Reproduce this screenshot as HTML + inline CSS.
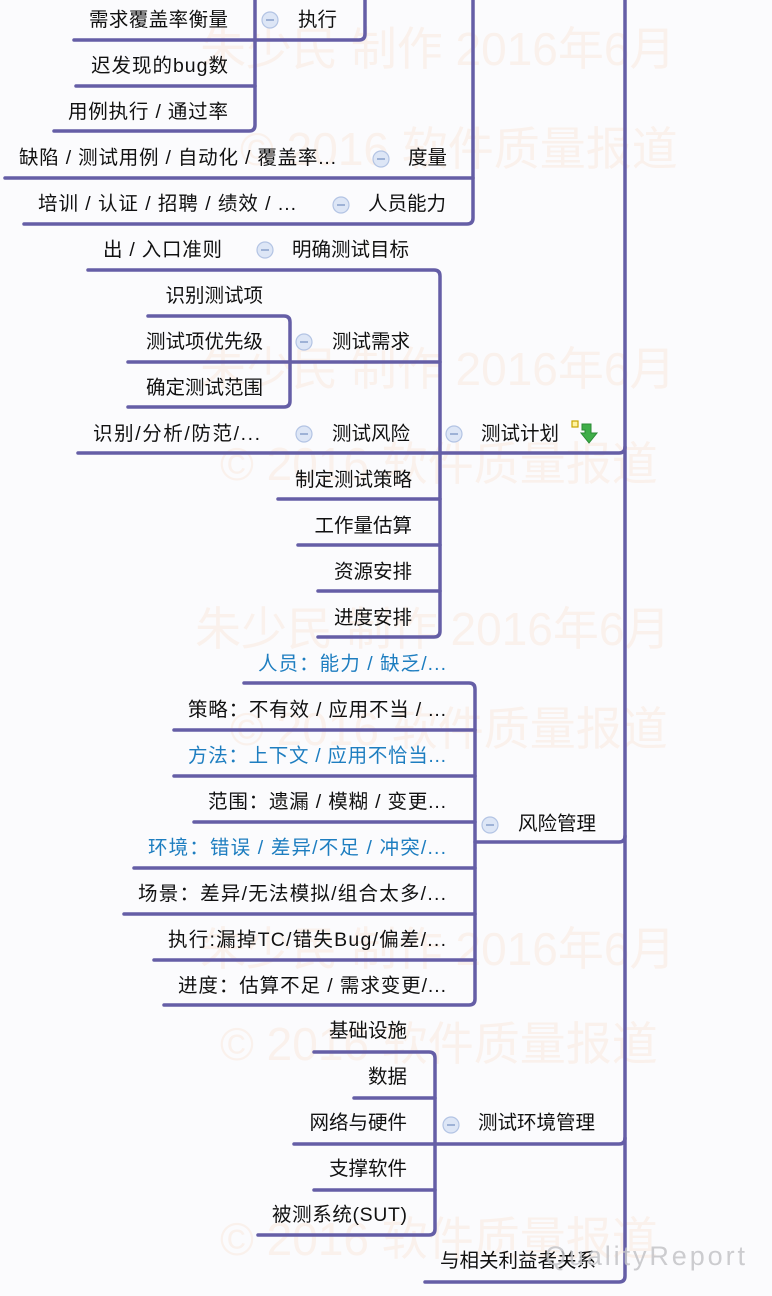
<!DOCTYPE html>
<html><head><meta charset="utf-8"><style>
html,body{margin:0;padding:0;background:#fbfbfd;}
svg{display:block;}
text{font-family:"Liberation Sans","Noto Sans CJK SC",sans-serif;font-size:19.5px;fill:#111;}
.wm{fill:#faf1ec;font-size:46px;}
.b{fill:#1e7ec0;}
</style></head><body>
<svg width="772" height="1296" viewBox="0 0 772 1296" xmlns="http://www.w3.org/2000/svg">
<g class="wmg">
<text class="wm" x="200" y="65">朱少民  制作 2016年6月</text>
<text class="wm" x="240" y="165">© 2016 软件质量报道</text>
<text class="wm" x="200" y="385">朱少民  制作 2016年6月</text>
<text class="wm" x="220" y="480">© 2016 软件质量报道</text>
<text class="wm" x="195" y="645">朱少民  制作 2016年6月</text>
<text class="wm" x="230" y="745">© 2016 软件质量报道</text>
<text class="wm" x="200" y="965">朱少民  制作 2016年6月</text>
<text class="wm" x="220" y="1060">© 2016 软件质量报道</text>
<text class="wm" x="220" y="1255">© 2016 软件质量报道</text>
</g>
<g fill="none" stroke="#655ea6" stroke-width="3.5" stroke-linecap="round">
<path d="M625 -5 V1276 q0 6 -6 6 H425"/>
<path d="M365 -5 V34 q0 6 -6 6 H255"/>
<path d="M255 -5 V125 q0 6 -6 6 H54"/>
<path d="M74 40 H255"/>
<path d="M76 86 H255"/>
<path d="M473 -5 V218 q0 6 -6 6 H24"/>
<path d="M5 178 H473"/>
<path d="M88 270 H434 q6 0 6 6 V631 q0 6 -6 6 H318"/>
<path d="M440 453 H619 q6 0 6 -6"/>
<path d="M291 362 H440"/>
<path d="M148 316 H284 q6 0 6 6 V401 q0 6 -6 6 H128"/>
<path d="M128 362 H290"/>
<path d="M78 453 H440"/>
<path d="M278 499 H440"/>
<path d="M298 545 H440"/>
<path d="M318 591 H440"/>
<path d="M244 683 H469 q6 0 6 6 V999 q0 6 -6 6 H164"/>
<path d="M475 842 H619 q6 0 6 -6"/>
<path d="M174 730 H475"/>
<path d="M174 776 H475"/>
<path d="M194 822 H475"/>
<path d="M134 868 H475"/>
<path d="M124 914 H475"/>
<path d="M154 960 H475"/>
<path d="M314 1052 H429 q6 0 6 6 V1229 q0 6 -6 6 H258"/>
<path d="M435 1144 H619 q6 0 6 -6"/>
<path d="M294 1144 H435"/>
<path d="M354 1098 H435"/>
<path d="M314 1190 H435"/>
</g>
<g fill="#dde6f6" stroke="#b3c4e4" stroke-width="1.2">
<circle cx="270" cy="20" r="8"/><circle cx="381" cy="159" r="8"/><circle cx="341" cy="205" r="8"/>
<circle cx="265" cy="250" r="8"/><circle cx="304" cy="342" r="8"/><circle cx="304" cy="434" r="8"/>
<circle cx="454" cy="434" r="8"/><circle cx="490" cy="825" r="8"/><circle cx="451" cy="1125" r="8"/>
</g>
<g stroke="#8aa0cc" stroke-width="1.5">
<path d="M266 20h8M377 159h8M337 205h8M261 250h8M300 342h8M300 434h8M450 434h8M486 825h8M447 1125h8"/>
</g>
<rect x="572" y="421" width="6" height="6" fill="#fff3a0" stroke="#c9a500" stroke-width="1.2"/>
<path d="M582 424 h9 v9 h6 l-8 10 l-8 -10 h4 v-3 h-3 z" fill="#3fae49" stroke="#2a8a34" stroke-width="1"/>

<g text-anchor="end">
<text x="228" y="26" textLength="139">需求覆盖率衡量</text>
<text x="228" y="72" textLength="137">迟发现的bug数</text>
<text x="228" y="118" textLength="160">用例执行 / 通过率</text>
<text x="336" y="164" textLength="317">缺陷 / 测试用例 / 自动化 / 覆盖率...</text>
<text x="296" y="210" textLength="258">培训 / 认证 / 招聘 / 绩效 / ...</text>
<text x="222" y="256" textLength="119">出 / 入口准则</text>
<text x="263" y="302">识别测试项</text>
<text x="263" y="348">测试项优先级</text>
<text x="263" y="394">确定测试范围</text>
<text x="260" y="440" textLength="167">识别/分析/防范/...</text>
<text x="412" y="486">制定测试策略</text>
<text x="412" y="532">工作量估算</text>
<text x="412" y="578">资源安排</text>
<text x="412" y="624">进度安排</text>
<text x="446" y="670" class="b" textLength="188">人员：能力 / 缺乏/...</text>
<text x="446" y="716" textLength="258">策略：不有效 / 应用不当 / ...</text>
<text x="446" y="762" class="b" textLength="258">方法：上下文 / 应用不恰当...</text>
<text x="446" y="808" textLength="238">范围：遗漏 / 模糊 / 变更...</text>
<text x="446" y="854" class="b" textLength="298">环境：错误 / 差异/不足 / 冲突/...</text>
<text x="446" y="900" textLength="308">场景：差异/无法模拟/组合太多/...</text>
<text x="446" y="946" textLength="278">执行:漏掉TC/错失Bug/偏差/...</text>
<text x="446" y="992" textLength="268">进度：估算不足 / 需求变更/...</text>
<text x="407" y="1037">基础设施</text>
<text x="407" y="1083">数据</text>
<text x="407" y="1129">网络与硬件</text>
<text x="407" y="1175">支撑软件</text>
<text x="407" y="1221" textLength="135">被测系统(SUT)</text>
</g>
<text x="298" y="26">执行</text>
<text x="408" y="164">度量</text>
<text x="368" y="210">人员能力</text>
<text x="292" y="256">明确测试目标</text>
<text x="332" y="348">测试需求</text>
<text x="332" y="440">测试风险</text>
<text x="481" y="440">测试计划</text>
<text x="518" y="830">风险管理</text>
<text x="478" y="1129">测试环境管理</text>
<text x="440" y="1267">与相关利益者关系</text>
<text x="545" y="1265" style="fill:#c4c4c8;font-size:27px;opacity:0.85" textLength="200">QualityReport</text>
</svg>
</body></html>
